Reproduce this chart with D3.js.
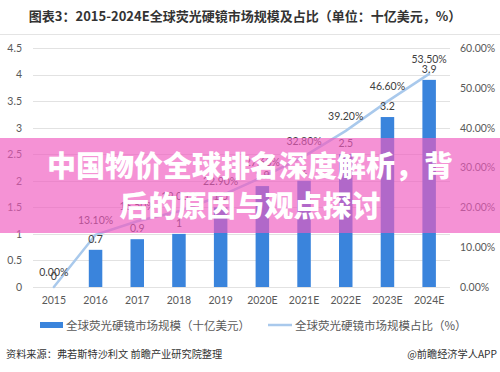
<!DOCTYPE html>
<html><head><meta charset="utf-8">
<script src="https://cdn.jsdelivr.net/npm/d3@7"></script>
<style>body{margin:0;background:#fff}svg{display:block}</style>
</head><body>
<script>
const categories = ["2015","2016","2017","2018","2019","2020E","2021E","2022E","2023E","2024E"];
const marketSize = [0, 0.7, 0.9, 1, 1.5, 1.9, 2.0, 2.5, 3.2, 3.9];
const marketShare = [0, 13.1, 16.5, 19.0, 22.9, 27.6, 32.8, 39.2, 46.6, 53.5];
const shareLabels = ["0.00%","13.10%","16.50%","19.00%","22.90%","27.60%","32.80%","39.20%","46.60%","53.50%"];
const leftTicks = [0,0.5,1,1.5,2,2.5,3,3.5,4,4.5];
const rightTicks = [0,10,20,30,40,50,60];
const title = "图表3：2015-2024E全球荧光硬镜市场规模及占比（单位：十亿美元，%）";
const legendNames = ["全球荧光硬镜市场规模（十亿美元）","全球荧光硬镜市场规模占比（%）"];
const source = "资料来源：弗若斯特沙利文 前瞻产业研究院整理";
const credit = "@前瞻经济学人APP";
const bannerLines = ["中国物价全球排名深度解析，背","后的原因与观点探讨"];

const W=500,H=372;
const svg=d3.select("body").append("svg").attr("width",W).attr("height",H);
const cjk='"Noto Sans CJK SC","Noto Sans",sans-serif';
const num='Lato,"Noto Sans CJK SC",sans-serif';

// title
svg.append("text").attr("x",245).attr("y",21).attr("text-anchor","middle")
  .attr("font-family",cjk).attr("font-weight","bold").attr("font-size",13).attr("fill","#333").text(title);
svg.append("line").attr("x1",0).attr("x2",W).attr("y1",34.5).attr("y2",34.5).attr("stroke","#e4e4e4");

const x=d3.scaleBand().domain(categories).range([33,450]).padding(0);
const yL=d3.scaleLinear().domain([0,4.5]).range([287,48]);
const yR=d3.scaleLinear().domain([0,60]).range([287,48]);

// grid
svg.append("g").selectAll("line").data(leftTicks).join("line")
  .attr("x1",33).attr("x2",450).attr("y1",d=>Math.round(yL(d))+0.5).attr("y2",d=>Math.round(yL(d))+0.5)
  .attr("stroke","#e2e2e2").attr("stroke-width",1);

// left axis
const gl=svg.append("g").attr("transform","translate(30,0)")
  .call(d3.axisLeft(yL).tickValues(leftTicks).tickSize(0).tickPadding(8).tickFormat(d=>d3.format("~g")(d)));
gl.select(".domain").remove();
gl.selectAll("text").attr("font-family",num).attr("font-size",10.5).attr("fill","#595959");

// right axis
const gr=svg.append("g").attr("transform","translate(452,0)")
  .call(d3.axisRight(yR).tickValues(rightTicks).tickSize(0).tickPadding(8).tickFormat(d=>d.toFixed(2)+"%"));
gr.select(".domain").remove();
gr.selectAll("text").attr("font-family",num).attr("font-size",10.5).attr("fill","#595959");

// x axis
const gx=svg.append("g").attr("transform","translate(0,287)")
  .call(d3.axisBottom(x).tickSize(0).tickPadding(10));
gx.select(".domain").remove();
gx.selectAll("text").attr("font-family",num).attr("font-size",10.5).attr("fill","#595959");

// bars
const bw=13.5;
svg.append("g").selectAll("rect").data(categories).join("rect")
  .attr("x",(d)=>x(d)+x.bandwidth()/2-bw/2).attr("width",bw)
  .attr("y",(d,i)=>yL(marketSize[i])).attr("height",(d,i)=>yL(0)-yL(marketSize[i]))
  .attr("fill","#3a84dc");

// line
const line=d3.line().x((d,i)=>x(categories[i])+x.bandwidth()/2).y(d=>yR(d));
svg.append("path").datum(marketShare).attr("d",line).attr("fill","none")
  .attr("stroke","#a9c9ec").attr("stroke-width",2.5).attr("stroke-linecap","round");

// bar labels
svg.append("g").selectAll("text").data(categories).join("text")
  .attr("x",d=>x(d)+x.bandwidth()/2).attr("y",(d,i)=>yL(marketSize[i])-7)
  .attr("text-anchor","middle").attr("font-family",num).attr("font-size",10.5).attr("fill","#404040")
  .text((d,i)=>d3.format("~g")(marketSize[i]));
// line labels
svg.append("g").selectAll("text").data(categories).join("text")
  .attr("x",d=>x(d)+x.bandwidth()/2).attr("y",(d,i)=>yR(marketShare[i])-11)
  .attr("text-anchor","middle").attr("font-family",num).attr("font-size",10.5).attr("fill","#404040")
  .text((d,i)=>shareLabels[i]);

// legend
svg.append("rect").attr("x",40).attr("y",322).attr("width",23).attr("height",6).attr("fill","#3a84dc");
svg.append("text").attr("x",66).attr("y",329.5).attr("font-family",cjk).attr("font-size",11.5).attr("fill","#595959").text(legendNames[0]);
svg.append("line").attr("x1",268).attr("x2",292).attr("y1",325).attr("y2",325).attr("stroke","#a9c9ec").attr("stroke-width",2.5);
svg.append("text").attr("x",295).attr("y",329.5).attr("font-family",cjk).attr("font-size",11.5).attr("fill","#595959").text(legendNames[1]);

// footer
svg.append("text").attr("x",6).attr("y",358).attr("font-family",cjk).attr("font-size",10.2).attr("fill","#333").text(source);
svg.append("text").attr("x",497).attr("y",358).attr("text-anchor","end").attr("font-family",cjk).attr("font-size",10.2).attr("fill","#333").text(credit);

// banner overlay
svg.append("rect").attr("x",0).attr("y",138).attr("width",W).attr("height",95).attr("fill","rgb(240,90,192)").attr("fill-opacity",0.66);
svg.append("g").selectAll("text").data(bannerLines).join("text")
  .attr("x",250).attr("y",(d,i)=>177+i*40).attr("text-anchor","middle")
  .attr("font-family",cjk).attr("font-weight",900).attr("font-size",29).attr("fill","#fff")
  .text(d=>d);
</script>
</body></html>
